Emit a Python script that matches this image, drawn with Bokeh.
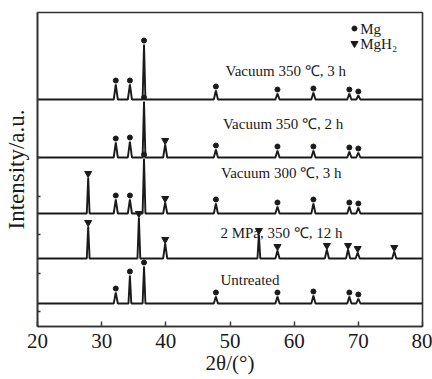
from bokeh.plotting import figure
from bokeh.models import FixedTicker
from bokeh.core.properties import value
from bokeh.embed import file_html
from bokeh.resources import INLINE

# ---- data ----
x_ticks = [20, 30, 40, 50, 60, 70, 80]
y_ticks = [15, 53, 92, 130, 169]

labels = ["Vacuum 350  \u2103, 3 h", "Vacuum 350  \u2103, 2 h", "Vacuum 300  \u2103, 3 h",
          "2 MPa, 350  \u2103, 12 h", "Untreated"]
baselines = [227, 169, 113, 68, 23]

# peak positions (2theta), heights above baseline, phase
a_pos = [32.2, 34.4, 36.6, 47.8, 57.4, 63.0, 68.6, 70.0]
a_h = [15, 15, 55, 9, 6, 7, 6, 4]
a_ph = ["Mg", "Mg", "Mg", "Mg", "Mg", "Mg", "Mg", "Mg"]

b_pos = [32.2, 34.4, 36.6, 39.9, 47.8, 57.4, 63.0, 68.6, 70.0]
b_h = [15, 16, 56, 13, 8, 7, 7, 6, 5]
b_ph = ["Mg", "Mg", "Mg", "MgH2", "Mg", "Mg", "Mg", "Mg", "Mg"]

c_pos = [27.9, 32.2, 34.4, 36.6, 39.9, 47.8, 57.4, 63.0, 68.6, 70.0]
c_h = [36, 14, 14, 55, 11, 10, 7, 10, 7, 6]
c_ph = ["MgH2", "Mg", "Mg", "Mg", "MgH2", "Mg", "Mg", "Mg", "Mg", "Mg"]

d_pos = [27.9, 35.8, 39.9, 54.5, 57.4, 65.1, 68.4, 69.9, 75.6]
d_h = [32, 41, 15, 24, 8, 9, 9, 6, 7]
d_ph = ["MgH2"] * 9

e_pos = [32.2, 34.4, 36.6, 47.8, 57.4, 63.0, 68.6, 70.0]
e_h = [11, 28, 37, 7, 7, 8, 7, 5]
e_ph = ["Mg"] * 8

traces = [(a_pos, a_h, a_ph), (b_pos, b_h, b_ph), (c_pos, c_h, c_ph),
          (d_pos, d_h, d_ph), (e_pos, e_h, e_ph)]
label_x = [49.3, 48.9, 48.6, 48.5, 48.5]
label_y = [256, 203, 154, 94, 47]

legend_names = ["Mg", "MgH\u2082"]
legend_y = [298, 283]

SERIF = "Liberation Serif"
INK = "#1a1a1a"

p = figure(frame_width=385, frame_height=314, x_range=(20, 80), y_range=(0, 314),
           output_backend="svg", toolbar_location=None,
           min_border_left=37, min_border_right=10, min_border_top=12, min_border_bottom=4)
p.grid.visible = False
p.outline_line_color = "#333333"
p.outline_line_width = 1.6
p.background_fill_color = "white"

for (pos, h, ph), base in zip(traces, baselines):
    xs, ys = [20.0], [base]
    for x0, hh in zip(pos, h):
        w = 0.22 if hh > 20 else 0.32
        xs += [x0 - w, x0, x0 + w]
        ys += [base, base + hh, base]
    xs.append(80.0)
    ys.append(base)
    p.line(xs, ys, line_color=INK, line_width=1.9)
    mg_x = [x0 for x0, f in zip(pos, ph) if f == "Mg"]
    mg_y = [base + hh + 4 for hh, f in zip(h, ph) if f == "Mg"]
    h2_x = [x0 for x0, f in zip(pos, ph) if f != "Mg"]
    h2_y = [base + hh + 4 for hh, f in zip(h, ph) if f != "Mg"]
    p.scatter(mg_x, mg_y, marker="circle", size=5, color=INK)
    p.scatter(h2_x, h2_y, marker="inverted_triangle", size=7, color=INK)

p.text(x=label_x, y=label_y, text=labels, text_font=value(SERIF),
       text_font_size="15px", text_baseline="middle", text_align="left", text_color=INK)

p.scatter([69.4], [legend_y[0]], marker="circle", size=5, color=INK)
p.scatter([69.4], [legend_y[1]], marker="inverted_triangle", size=7, color=INK)
p.text(x=[70.3, 70.3], y=legend_y, text=legend_names, text_font=value(SERIF),
       text_font_size="15px", text_baseline="middle", text_align="left", text_color=INK)

xa = p.xaxis[0]
xa.ticker = FixedTicker(ticks=x_ticks)
xa.axis_label = "2\u03b8/(\u00b0)"
xa.axis_label_text_font = SERIF
xa.axis_label_text_font_style = "normal"
xa.axis_label_text_font_size = "21px"
xa.axis_label_standoff = 0
xa.major_label_text_font = SERIF
xa.major_label_text_font_size = "21px"
xa.major_label_standoff = 7
xa.major_tick_in = 5
xa.major_tick_out = 0
xa.minor_tick_line_color = None

ya = p.yaxis[0]
ya.ticker = FixedTicker(ticks=y_ticks)
ya.major_label_overrides = {t: "" for t in y_ticks}
ya.major_label_standoff = 0
ya.axis_label = "Intensity/a.u."
ya.axis_label_text_font = SERIF
ya.axis_label_text_font_style = "normal"
ya.axis_label_text_font_size = "23px"
ya.axis_label_standoff = 9
ya.major_tick_in = 3
ya.major_tick_out = 0
ya.minor_tick_line_color = None

for ax in (xa, ya):
    ax.axis_line_color = "#333333"
    ax.axis_line_width = 1.6
    ax.major_tick_line_color = "#333333"
    ax.major_tick_line_width = 1.4
    ax.major_label_text_color = INK
    ax.axis_label_text_color = INK

open("out.html", "w").write(file_html(p, INLINE))
